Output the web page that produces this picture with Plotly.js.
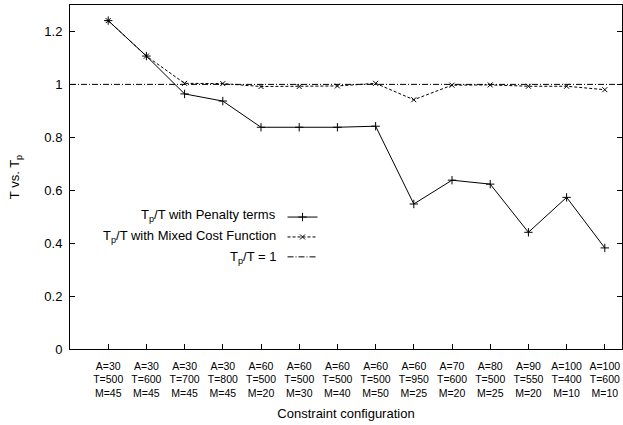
<!DOCTYPE html>
<html>
<head>
<meta charset="utf-8">
<script src="https://cdn.plot.ly/plotly-3.0.1.min.js"></script>
<style>html,body{margin:0;padding:0;background:#fff;}#chart{width:623px;height:425px;}</style>
</head>
<body>
<div id="chart"></div>
<script>
const categories = [
  "A=30<br>T=500<br>M=45", "A=30<br>T=600<br>M=45", "A=30<br>T=700<br>M=45", "A=30<br>T=800<br>M=45",
  "A=60<br>T=500<br>M=20", "A=60<br>T=500<br>M=30", "A=60<br>T=500<br>M=40", "A=60<br>T=500<br>M=50",
  "A=60<br>T=950<br>M=25", "A=70<br>T=600<br>M=20", "A=80<br>T=500<br>M=25", "A=90<br>T=550<br>M=20",
  "A=100<br>T=400<br>M=10", "A=100<br>T=600<br>M=10"
];
const penalty = [1.241, 1.107, 0.964, 0.937, 0.838, 0.838, 0.838, 0.842, 0.548, 0.638, 0.623, 0.441, 0.573, 0.382];
const mixed   = [1.241, 1.107, 1.004, 1.003, 0.992, 0.992, 0.994, 1.004, 0.942, 0.997, 0.998, 0.993, 0.993, 0.980];
const refValue = 1;
const legendLabels = ["T<sub>p</sub>/T with Penalty terms", "T<sub>p</sub>/T with Mixed Cost Function", "T<sub>p</sub>/T = 1"];
const yTicks = [0, 0.2, 0.4, 0.6, 0.8, 1, 1.2];
const yTickText = ["0", "0.2", "0.4", "0.6", "0.8", "1", "1.2"];

const font = "Liberation Sans, Arial, Helvetica, sans-serif";

const traces = [
  {x: categories, y: penalty, type: "scatter", mode: "lines+markers", name: " ",
   line: {color: "#000", width: 1, dash: "solid"},
   marker: {symbol: "cross-thin-open", size: 6, color: "#000", line: {width: 1, color: "#000"}}},
  {x: categories, y: mixed, type: "scatter", mode: "lines+markers", name: " ",
   line: {color: "#000", width: 1, dash: "3px,2px"},
   marker: {symbol: "x-thin-open", size: 5, color: "#000", line: {width: 1, color: "#000"}}}
];

const layout = {
  width: 623, height: 425,
  margin: {l: 70, r: 1, t: 5, b: 76},
  paper_bgcolor: "#fff", plot_bgcolor: "#fff",
  font: {family: font, size: 13, color: "#000"},
  showlegend: true,
  legend: {x: 0.385, y: 0.427, xanchor: "left", yanchor: "top", bgcolor: "rgba(0,0,0,0)",
           font: {size: 13}, itemwidth: 30, tracegroupgap: 0},
  xaxis: {type: "category", range: [-1, 13.45], showgrid: false, zeroline: false,
          showline: true, linecolor: "#000", linewidth: 1, mirror: true,
          ticks: "inside", ticklen: 5, tickcolor: "#000", ticklabelstandoff: 7,
          tickfont: {size: 10.5, family: font},
          title: {text: "Constraint configuration", font: {size: 13}, standoff: 10}},
  yaxis: {range: [0, 1.3], showgrid: false, zeroline: false,
          showline: true, linecolor: "#000", linewidth: 1, mirror: "ticks",
          ticks: "inside", ticklen: 5, tickcolor: "#000",
          tickvals: yTicks, ticktext: yTickText, ticklabelstandoff: 4,
          title: {text: "T vs. T<sub>p</sub>", font: {size: 13}, standoff: 21}},
  shapes: [
    {type: "line", xref: "paper", yref: "y", x0: 0, x1: 1, y0: refValue, y1: refValue,
     line: {color: "#000", width: 1, dash: "6px,2px,1px,2px"}, showlegend: true, name: " "}
  ],
  annotations: legendLabels.map((t, i) => ({
    text: t, xref: "paper", yref: "paper", x: 0.377, y: (349.5 - (216 + 21 * i)) / 344.5,
    xanchor: "right", yanchor: "middle", showarrow: false, font: {size: 13}
  }))
};

Plotly.newPlot("chart", traces, layout, {displayModeBar: false, staticPlot: true});
</script>
</body>
</html>
